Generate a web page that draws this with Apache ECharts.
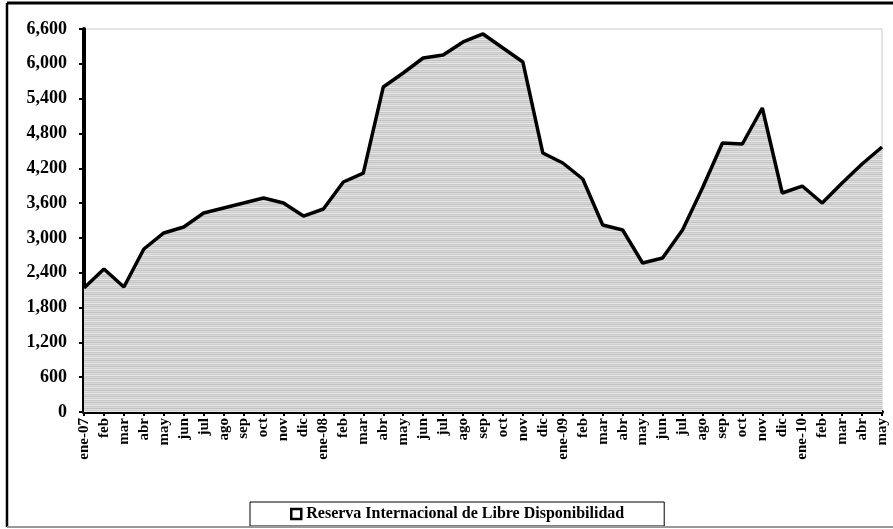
<!DOCTYPE html>
<html>
<head>
<meta charset="utf-8">
<script src="https://cdn.jsdelivr.net/npm/echarts@6/dist/echarts.min.js"></script>
<style>html,body{margin:0;padding:0;background:#fff}#c{width:893px;height:529px}</style>
</head>
<body>
<div id="c"></div>
<script>
const categories = ["ene-07","feb","mar","abr","may","jun","jul","ago","sep","oct","nov","dic",
  "ene-08","feb","mar","abr","may","jun","jul","ago","sep","oct","nov","dic",
  "ene-09","feb","mar","abr","may","jun","jul","ago","sep","oct","nov","dic",
  "ene-10","feb","mar","abr","may"];
const reserva = [2137,2464,2154,2809,3085,3188,3429,3515,3601,3688,3601,3377,
  3498,3963,4118,5600,5842,6100,6152,6376,6514,6272,6031,4463,
  4291,4015,3222,3136,2568,2654,3136,3860,4635,4618,5239,3774,
  3894,3601,3946,4274,4566];
const seriesName = "Reserva Internacional de Libre Disponibilidad";
const yMin = 0, yMax = 6600, yStep = 600;

// striped fill pattern
const pc = document.createElement('canvas');
pc.width = 4; pc.height = 6;
const g = pc.getContext('2d');
const rows = ['#c2c2c2','#dedede','#cdcdcd','#e8e8e8','#c8c8c8','#d9d9d9'];
rows.forEach((col,i)=>{ g.fillStyle = col; g.fillRect(0,i,4,1); });

const chart = echarts.init(document.getElementById('c'), null, {renderer:'canvas'});
const serif = '"Liberation Serif","Times New Roman",serif';
chart.setOption({
  animation:false,
  backgroundColor:'#ffffff',
  grid:{left:84,right:11,top:29,bottom:117,show:true,borderColor:'#c8c8c8',borderWidth:1,backgroundColor:'#ffffff'},
  xAxis:{
    type:'category', data:categories, boundaryGap:false,
    axisLine:{lineStyle:{color:'#000',width:4}},
    axisTick:{show:true,alignWithLabel:true,length:4,lineStyle:{color:'#000',width:2}},
    axisLabel:{rotate:90,interval:0,fontFamily:serif,fontWeight:'bold',fontSize:15,color:'#000',margin:6},
    splitLine:{show:false}
  },
  yAxis:{
    type:'value', min:yMin, max:yMax, interval:yStep,
    axisLine:{show:true,lineStyle:{color:'#000',width:4}},
    axisTick:{show:true,length:5,lineStyle:{color:'#000',width:2}},
    axisLabel:{fontFamily:serif,fontWeight:'bold',fontSize:18,color:'#000',margin:17,
      formatter:v=>v.toLocaleString('en-US')},
    splitLine:{show:false}
  },
  legend:{
    show:true, bottom:3, left:250,
    padding:[4,40,4,40], backgroundColor:'#fff', borderColor:'#000', borderWidth:1,
    itemWidth:10, itemHeight:10, itemGap:5,
    icon:'rect',
    itemStyle:{color:'#fff',borderColor:'#000',borderWidth:2.5},
    textStyle:{fontFamily:serif,fontWeight:'bold',fontSize:16,color:'#000'},
    data:[seriesName]
  },
  graphic:[
    {type:'line',shape:{x1:7,y1:3,x2:893,y2:3},style:{stroke:'#000',lineWidth:3},z:100},
    {type:'line',shape:{x1:7,y1:3,x2:7,y2:527},style:{stroke:'#000',lineWidth:2.5},z:100},
    {type:'line',shape:{x1:7,y1:527,x2:893,y2:527},style:{stroke:'#999',lineWidth:2},z:100}
  ],
  series:[{
    name:seriesName, type:'line', data:reserva, symbol:'none',
    lineStyle:{color:'#000',width:3.5},
    itemStyle:{color:'#fff',borderColor:'#000'},
    areaStyle:{color:{image:pc,repeat:'repeat'},opacity:1}
  }]
});
</script>
</body>
</html>
